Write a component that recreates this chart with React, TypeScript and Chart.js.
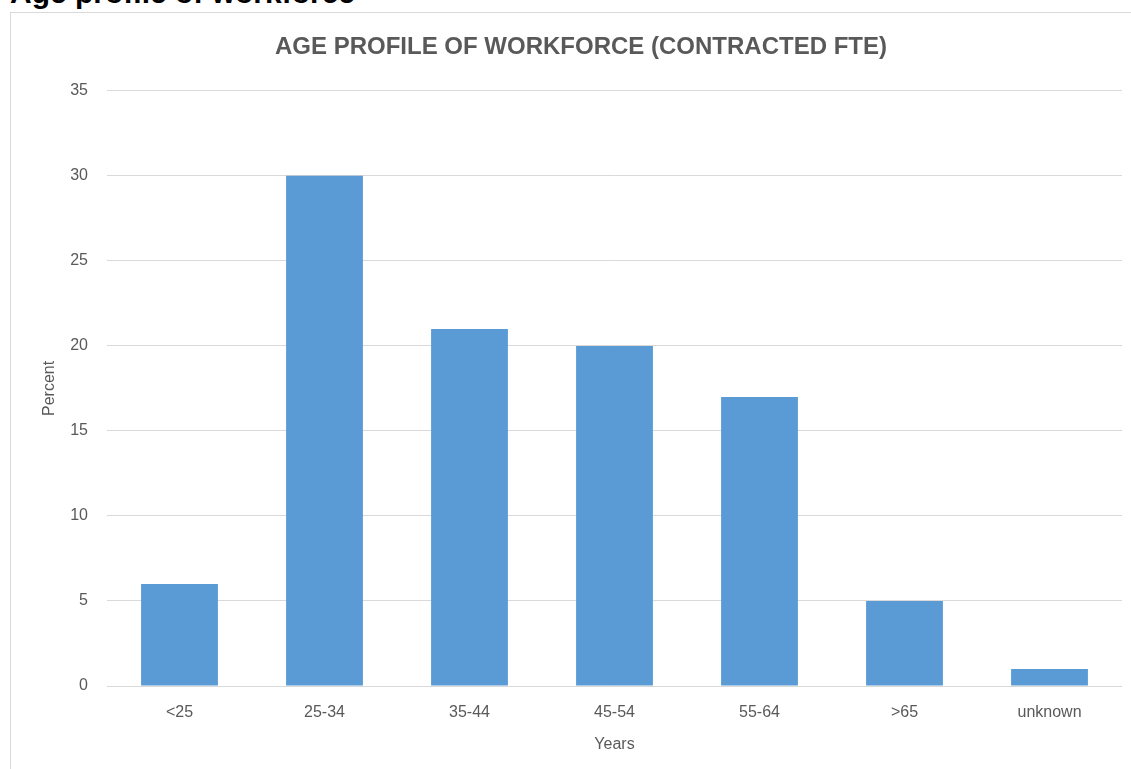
import React, { useEffect, useRef } from "react";
import { Chart, registerables } from "chart.js";

Chart.register(...registerables);

const categories = ["<25", "25-34", "35-44", "45-54", "55-64", ">65", "unknown"];
const percentValues = [6, 30, 21, 20, 17, 5, 1];
const yTicks = [0, 5, 10, 15, 20, 25, 30, 35];

const FONT = "'Liberation Sans', Arial, sans-serif";
const TEXT = "#595959";
const GRID = "#d9d9d9";
const BAR = "#5B9BD5";

export default function App() {
  const ref = useRef<HTMLCanvasElement | null>(null);

  useEffect(() => {
    if (!ref.current) return;
    const chart = new Chart(ref.current, {
      type: "bar",
      data: {
        labels: categories,
        datasets: [
          {
            label: "Percent",
            data: percentValues,
            backgroundColor: BAR,
            borderWidth: 0,
            barPercentage: 0.53,
            categoryPercentage: 1,
          },
        ],
      },
      options: {
        responsive: false,
        animation: false,
        layout: { padding: { left: 29, right: 19, top: 0, bottom: 29 } },
        plugins: {
          legend: { display: false },
          tooltip: { enabled: false },
          title: {
            display: true,
            text: "AGE PROFILE OF WORKFORCE (CONTRACTED FTE)",
            color: TEXT,
            font: { family: FONT, size: 24, weight: "bold" },
            padding: { top: 20, bottom: 29 },
          },
        },
        scales: {
          x: {
            grid: { display: false, drawTicks: false },
            border: { display: false },
            afterFit: (axis: any) => {
              axis.height = 68;
            },
            ticks: {
              color: TEXT,
              font: { family: FONT, size: 16 },
              padding: 17,
              maxRotation: 0,
            },
            title: {
              display: true,
              text: "Years",
              color: TEXT,
              font: { family: FONT, size: 16 },
              padding: { top: 12, bottom: 0 },
            },
          },
          y: {
            min: 0,
            max: 35,
            afterBuildTicks: (axis: any) => {
              axis.ticks = yTicks.map((v) => ({ value: v }));
            },
            afterFit: (axis: any) => {
              axis.width = 67;
            },
            grid: { color: GRID, lineWidth: 1, drawTicks: false },
            border: { display: false },
            ticks: {
              color: TEXT,
              font: { family: FONT, size: 16 },
              padding: 19,
            },
            title: {
              display: true,
              text: "Percent",
              color: TEXT,
              font: { family: FONT, size: 16 },
              padding: { top: 0, bottom: 0 },
            },
          },
        },
      },
    });
    return () => chart.destroy();
  }, []);

  return (
    <div
      style={{
        position: "fixed",
        left: 0,
        top: 0,
        width: 1131,
        height: 769,
        overflow: "hidden",
        background: "#ffffff",
      }}
    >
      <div
        style={{
          position: "absolute",
          left: 10,
          top: -22,
          fontFamily: FONT,
          fontWeight: "bold",
          fontSize: 30,
          lineHeight: "30px",
          color: "#000000",
          whiteSpace: "nowrap",
        }}
      >
        Age profile of workforce
      </div>
      <div
        style={{
          position: "absolute",
          left: 10,
          top: 12,
          width: 1130,
          height: 800,
          border: "1px solid #d9d9d9",
        }}
      >
        <canvas ref={ref} width={1130} height={770} style={{ display: "block" }} />
      </div>
    </div>
  );
}
